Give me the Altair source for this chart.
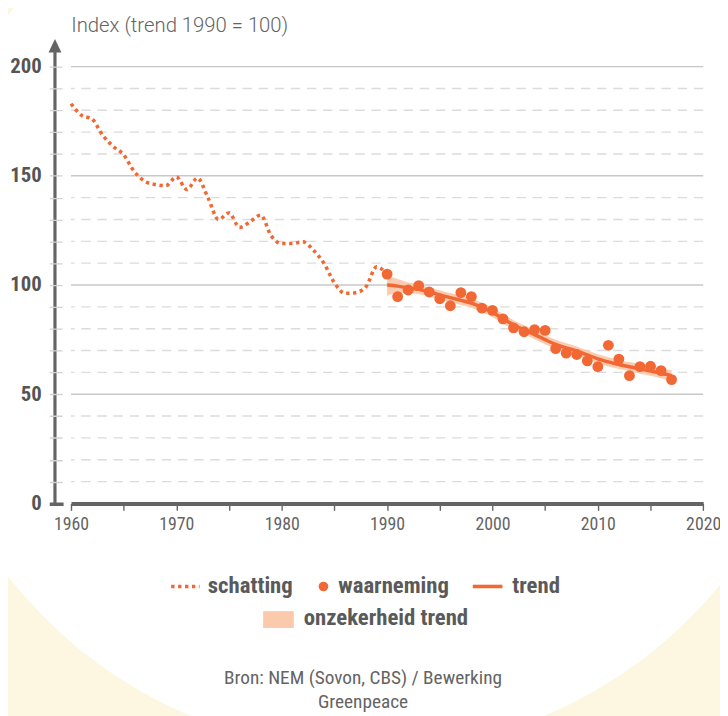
import altair as alt
import pandas as pd
import math

# ---------------- data ----------------
est_years = list(range(1960, 1991))
est_values = [183, 177.7, 176, 168.6, 163.5, 159.6, 152, 147.5, 146, 145.5,
              149.5, 143.7, 149, 140, 130, 133, 126.4, 129, 132, 122.5,
              119, 119, 119.8, 116, 110, 101, 96.2, 96.5, 99.2, 108.3, 105]

obs_years = list(range(1990, 2018))
obs_values = [105, 94.7, 97.7, 99.7, 96.8, 93.7, 90.5, 96.5, 94.7, 89.4,
              88.4, 84.5, 80.4, 78.6, 79.6, 79.2, 70.9, 68.8, 68.2, 65.3,
              62.6, 72.4, 66.1, 58.5, 62.6, 62.8, 60.8, 56.7]

trend_values = [100, 99.5, 98.7, 98, 96.8, 95.5, 94.2, 93, 91.7, 89.8,
                87.5, 84.5, 81.8, 79.5, 77.3, 75, 72.8, 71.2, 69.8, 68,
                66.2, 64.8, 63.6, 62.6, 61.6, 60.6, 59.6, 58.5]
trend_lower = [95, 96.3, 96.3, 95.8, 94.7, 93.4, 92.1, 90.9, 89.6, 87.7,
               85.3, 82.3, 79.7, 77.4, 75.2, 72.9, 70.7, 69.1, 67.7, 65.9,
               64.1, 62.7, 61.5, 60.5, 59.4, 58.4, 57.3, 56]
trend_upper = [104.5, 102.7, 101.2, 100.2, 98.9, 97.6, 96.3, 95.1, 93.8, 91.9,
               89.7, 86.7, 83.9, 81.6, 79.4, 77.1, 74.9, 73.3, 71.9, 70.1,
               68.3, 66.9, 65.7, 64.7, 63.8, 62.8, 61.9, 61]

grid_solid = [50, 100, 150, 200]
grid_dashed = [10, 20, 30, 40, 60, 70, 80, 90, 110, 120, 130, 140,
               160, 170, 180, 190]
y_ticks = list(range(0, 201, 10))
x_ticks = list(range(1960, 2021, 5))

title_text = "Index (trend 1990 = 100)"
legend_labels = ["schatting", "waarneming", "trend", "onzekerheid trend"]
source_lines = ["Bron: NEM (Sovon, CBS) / Bewerking", "Greenpeace"]

# ---------------- style ----------------
ORANGE = "#f26835"
BAND = "#fbc9ac"
GREY = "#646464"
CREAM = "#fdf6e0"
COND = "'Roboto Condensed', 'Liberation Sans Narrow', 'DejaVu Sans Condensed', 'Noto Sans', sans-serif"
REG = "Roboto, 'Noto Sans', sans-serif"

W, H = 639.3, 441.7

est_df = pd.DataFrame({"year": est_years, "value": est_values})
obs_df = pd.DataFrame({"year": obs_years, "value": obs_values})
trend_df = pd.DataFrame({"year": obs_years, "value": trend_values,
                         "lower": trend_lower, "upper": trend_upper})
one = pd.DataFrame({"k": [0]})

xscale = alt.Scale(domain=[1960, 2020], nice=False, zero=False)
yscale = alt.Scale(domain=[0, 200], nice=False)

x_axis = alt.Axis(values=x_ticks, format="d",
                  labelExpr="datum.value % 10 == 0 ? datum.label : ''",
                  grid=False, domainWidth=4, domainColor=GREY, domainCap="butt",
                  tickColor=GREY, tickWidth=1.4, tickSize=7,
                  labelFont=COND, labelFontSize=18, labelColor=GREY,
                  labelPadding=5, title=None, zindex=1, labelFlush=False)
y_axis = alt.Axis(values=y_ticks,
                  labelExpr="datum.value % 50 == 0 ? datum.label : ''",
                  grid=False, domain=False, tickSize=22,
                  tickColor={"condition": {"test": "datum.value === 0", "value": GREY}, "value": "#d2d2d2"},
                  tickWidth={"condition": {"test": "datum.value === 0", "value": 3.5}, "value": 1.4},
                  tickDash={"condition": {"test": "datum.value === 0", "value": [0, 8, 14, 0]}, "value": [0, 9, 13, 0]},
                  labelFont=COND, labelFontSize=21, labelFontWeight="bold",
                  labelColor="#555555", labelPadding=8, title=None, zindex=1)

X = alt.X("year:Q", scale=xscale, axis=x_axis)
Y = alt.Y("value:Q", scale=yscale, axis=y_axis)

# background white disc
disc = alt.Chart(one).mark_arc(radius=461, theta=0, theta2=2 * math.pi,
                               color="white").encode(
    x=alt.value(299.8), y=alt.value(231.7))

grid1 = alt.Chart(pd.DataFrame({"value": grid_solid})).mark_rule(
    color="#c8c8c8", strokeWidth=1.4).encode(y=Y)
grid2 = alt.Chart(pd.DataFrame({"value": grid_dashed})).mark_rule(
    color="#dcdcdc", strokeWidth=1.4, strokeDash=[9.5, 6.8]).encode(y=Y)

band = alt.Chart(trend_df).mark_area(color=BAND, opacity=0.95,
                                     interpolate="monotone").encode(
    x=X, y=alt.Y("lower:Q", scale=yscale, axis=y_axis), y2="upper:Q")
trend = alt.Chart(trend_df).mark_line(color=ORANGE, strokeWidth=3.5,
                                      interpolate="monotone").encode(x=X, y=Y)
est = alt.Chart(est_df).mark_line(color=ORANGE, strokeWidth=3.6,
                                  strokeDash=[3.4, 3.6],
                                  interpolate="monotone").encode(x=X, y=Y)
obs = alt.Chart(obs_df).mark_circle(color=ORANGE, size=120,
                                    opacity=1).encode(x=X, y=Y)

# y axis line with arrow
yline = alt.Chart(one).mark_rule(color=GREY, strokeWidth=3.2).encode(
    x=alt.value(-16.2), y=alt.value(-15), y2=alt.value(H + 1.8))
arrow = alt.Chart(one).mark_point(shape="M0,-1.1L1,1L-1,1Z", filled=True,
                                  size=169, color=GREY, opacity=1).encode(
    x=alt.value(-16.2), y=alt.value(-20.8))

title = alt.Chart(one).mark_text(text=title_text, font=REG, fontSize=20.5,
                                 fontWeight=300, color=GREY, align="left",
                                 baseline="middle").encode(
    x=alt.value(0.3), y=alt.value(-41.5))

# legend
LY1, LY2 = 525.7, 557.7
leg_items = []
leg_items.append(alt.Chart(one).mark_rule(color=ORANGE, strokeWidth=3.4,
                                          strokeDash=[3.4, 3.6]).encode(
    x=alt.value(101.3), x2=alt.value(130), y=alt.value(LY1)))
leg_items.append(alt.Chart(one).mark_circle(color=ORANGE, size=95, opacity=1).encode(
    x=alt.value(255.3), y=alt.value(LY1)))
leg_items.append(alt.Chart(one).mark_rule(color=ORANGE, strokeWidth=3.6).encode(
    x=alt.value(406.3), x2=alt.value(436.3), y=alt.value(LY1)))
leg_items.append(alt.Chart(one).mark_rect(color=BAND, opacity=1).encode(
    x=alt.value(194.3), x2=alt.value(225.3), y=alt.value(550.7), y2=alt.value(567.7)))
for lab, lx, ly in zip(legend_labels, [138.3, 270.3, 446.3, 235.3],
                       [LY1, LY1, LY1, LY2]):
    leg_items.append(alt.Chart(one).mark_text(
        text=lab, font=COND, fontSize=23, fontWeight="bold", color="#5a5a5a",
        align="left", baseline="middle").encode(x=alt.value(lx), y=alt.value(ly)))

src = []
for line, sy in zip(source_lines, [618.7, 642.5]):
    src.append(alt.Chart(one).mark_text(
        text=line, font=COND, fontSize=19.5, color=GREY,
        align="center", baseline="middle").encode(x=alt.value(295.3), y=alt.value(sy)))

chart = alt.layer(disc, grid1, grid2, band, trend, est, obs, yline, arrow,
                  title, *leg_items, *src).properties(
    width=W, height=H,
    background=CREAM,
    padding={"left": 63.7, "top": 55.3, "right": 17, "bottom": 211},
    autosize=alt.AutoSizeParams(type="none"),
).configure_view(stroke=None).resolve_scale(x="shared", y="shared")

chart.save("out.html", embed_options={"renderer": "svg", "actions": False})
